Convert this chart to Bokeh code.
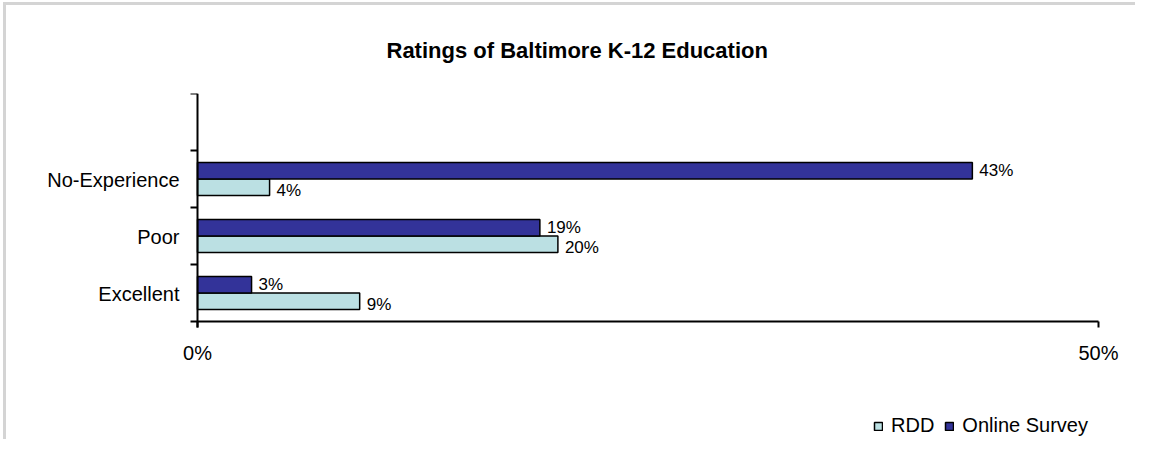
from bokeh.plotting import figure
from bokeh.models import Range1d, FixedTicker, ColumnDataSource, Legend, LegendItem
from bokeh.core.properties import value
from bokeh.embed import file_html
from bokeh.resources import INLINE

categories = ["Excellent", "Poor", "No-Experience"]
rdd = [0.09, 0.20, 0.04]
online = [0.03, 0.19, 0.43]
rdd_labels = ["9%", "20%", "4%"]
online_labels = ["3%", "19%", "43%"]
x_ticks = [0.0, 0.5]
x_tick_labels = ["0%", "50%"]

FONT = "Liberation Sans"
centers = [i + 0.5 for i in range(len(categories))]
BH = 0.29
N_SLOTS = 4
X_MAX = 0.5

# layout (pixels): plot body 901 x 228; frame padded around it for labels and legend
BODY_W, BODY_H = 901, 228
PAD_L, PAD_R, PAD_B = 157, 27, 118
x_lo = -X_MAX * PAD_L / BODY_W
x_hi = X_MAX * (1 + PAD_R / BODY_W)
y_lo = -N_SLOTS * PAD_B / BODY_H
y_tick_ext = -N_SLOTS * 6 / BODY_H

p = figure(frame_width=BODY_W + PAD_L + PAD_R, frame_height=BODY_H + PAD_B,
           output_backend="svg", toolbar_location=None,
           x_range=Range1d(x_lo, x_hi), y_range=Range1d(y_lo, N_SLOTS),
           x_axis_location="above",
           min_border_left=197 - PAD_L, min_border_right=10, min_border_top=93, min_border_bottom=0,
           styles={"background-color": "white",
                   "box-shadow": "inset 3px 2px 0 0 #ffffff, inset 6px 5px 0 0 #d4d4d4"})
p.border_fill_alpha = 0
p.outline_line_color = None
p.xgrid.grid_line_color = None
p.ygrid.grid_line_color = None

src_on = ColumnDataSource(dict(y=[c + BH / 2 for c in centers], v=online, lab=online_labels))
src_rd = ColumnDataSource(dict(y=[c - BH / 2 for c in centers], v=rdd, lab=rdd_labels))

r_rd = p.hbar(y="y", right="v", left=0, height=BH, source=src_rd,
              fill_color="#BBE0E3", line_color="black", line_width=1.5)
r_on = p.hbar(y="y", right="v", left=0, height=BH, source=src_on,
              fill_color="#333399", line_color="black", line_width=1.5)

p.text(x="v", y="y", text="lab", source=src_on, x_offset=7, y_offset=0,
       text_baseline="middle", text_align="left",
       text_font=value(FONT), text_font_size="17px", text_color="black")
p.text(x="v", y="y", text="lab", source=src_rd, x_offset=7, y_offset=3,
       text_baseline="middle", text_align="left",
       text_font=value(FONT), text_font_size="17px", text_color="black")

# x axis: line at y = 0, downward tick marks, labels drawn below
p.xaxis.fixed_location = 0
p.xaxis.bounds = (0, X_MAX)
p.xaxis.ticker = FixedTicker(ticks=[], minor_ticks=x_ticks)
p.xaxis.axis_line_width = 2
p.xaxis.major_tick_line_color = None
p.xaxis.minor_tick_line_width = 2
p.xaxis.minor_tick_line_color = "black"
p.xaxis.minor_tick_out = 0
p.xaxis.minor_tick_in = 6
src_xt = ColumnDataSource(dict(x=x_ticks, y=[0, 0], lab=x_tick_labels))
p.text(x="x", y="y", text="lab", source=src_xt, y_offset=31,
       text_baseline="middle", text_align="center",
       text_font=value(FONT), text_font_size="20px", text_color="black")

# y axis at x = 0: line and category boundary ticks
p.yaxis.fixed_location = 0
p.yaxis.bounds = (y_tick_ext, N_SLOTS)
p.yaxis.ticker = FixedTicker(ticks=[], minor_ticks=list(range(N_SLOTS + 1)))
p.yaxis.axis_line_width = 2
p.yaxis.major_tick_line_color = None
p.yaxis.minor_tick_line_width = 2
p.yaxis.minor_tick_line_color = "black"
p.yaxis.minor_tick_out = 7
p.yaxis.minor_tick_in = 0
# category labels
src_cat = ColumnDataSource(dict(x=[0] * len(categories), y=centers, lab=categories))
p.text(x="x", y="y", text="lab", source=src_cat, x_offset=-18, y_offset=1,
       text_baseline="middle", text_align="right",
       text_font=value(FONT), text_font_size="20px", text_color="black")

# title
p.title.text = "Ratings of Baltimore K-12 Education"
p.title.align = "left"
p.title.offset = 189 + PAD_L
p.title.text_font = FONT
p.title.text_font_size = "22px"
p.title.text_font_style = "bold"
p.title.text_color = "black"
p.title.standoff = 62

legend = Legend(items=[LegendItem(label="RDD", renderers=[r_rd]),
                       LegendItem(label="Online Survey", renderers=[r_on])],
                orientation="horizontal", location=(676 + PAD_L, 2),
                border_line_color=None, background_fill_alpha=0,
                label_text_font=FONT, label_text_font_size="20px", label_text_color="black",
                glyph_width=10, glyph_height=10, spacing=10, padding=0,
                label_standoff=8, margin=0)
p.add_layout(legend, "center")

open("out.html", "w").write(file_html(p, INLINE))
